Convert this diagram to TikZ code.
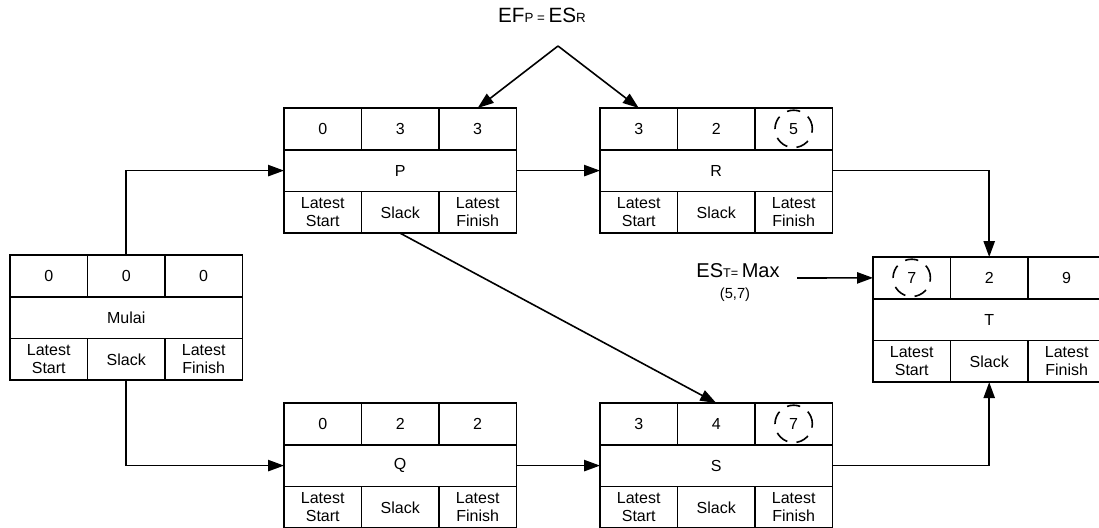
\documentclass[tikz,border=0pt]{standalone}
\usepackage{fontspec}
\setmainfont{Liberation Sans}
\usetikzlibrary{positioning,arrows.meta}

% one activity: ES | duration | EF, name, LS | slack | LF
\newcommand{\actbox}[6]{%
  \node[cell, anchor=north west] (#1-es) at (#2) {#3};
  \node[cell, right=0pt of #1-es] (#1-dur) {#4};
  \node[cell, right=0pt of #1-dur] (#1-ef) {#5};
  \node[namecell, below=0pt of #1-dur] (#1) {#6};
  \node[cell, anchor=north west] (#1-ls) at (#1.south west) {Latest\\Start};
  \node[cell, right=0pt of #1-ls] (#1-sl) {Slack};
  \node[cell, right=0pt of #1-sl] (#1-lf) {Latest\\Finish};
}

\begin{document}
\begin{tikzpicture}[x=0.75pt, y=-0.75pt,
  cell/.style={draw, line width=1.3pt, outer sep=0pt, inner sep=1pt,
    minimum width=58.1pt, minimum height=31.3pt, align=center,
    font=\fontsize{12}{13.5}\selectfont},
  namecell/.style={cell, minimum width=174.3pt},
  arr/.style={line width=1.2pt, -{Triangle[length=12pt, width=8.5pt]}},
  ring/.style={line width=1.2pt, dash pattern=on 10pt off 7pt}]
\useasboundingbox (0,0) rectangle (1099,528);

\actbox{mulai}{10,255}{0}{0}{0}{Mulai}
\actbox{p}{284,108}{0}{3}{3}{P}
\actbox{q}{284,403}{0}{2}{2}{Q}
\actbox{r}{600,108}{3}{2}{5}{R}
\actbox{s}{600,403}{3}{4}{7}{S}
\actbox{t}{873,257}{7}{2}{9}{T}

% critical values
\draw[ring] (r-ef.center) circle[radius=14pt];
\draw[ring] (s-ef.center) circle[radius=14pt];
\draw[ring] (t-es.center) circle[radius=14pt];

% dependencies
\draw[arr] (mulai-dur.north) |- (p.west);
\draw[arr] (mulai-sl.south) |- (q.west);
\draw[arr] (p.east) -- (r.west);
\draw[arr] (q.east) -- (s.west);
\draw[arr] (p-sl.south) -- (s-dur.north);
\draw[arr] (r.east) -| (t-dur.north);
\draw[arr] (s.east) -| (t-sl.south);

% notes
\node[anchor=base, inner sep=0pt] (efnote) at (542,23)
  {\fontsize{15.5}{17}\selectfont EF\fontsize{10}{11}\selectfont P = \fontsize{15.5}{17}\selectfont ES\fontsize{10}{11}\selectfont R};
\coordinate (apex) at (558,46);
\draw[arr] (apex) -- (p-ef.north);
\draw[arr] (apex) -- (r-es.north);

\node[anchor=base, inner sep=0pt] (estnote) at (738,277)
  {\fontsize{15}{17}\selectfont ES\fontsize{9.5}{11}\selectfont T= \fontsize{15}{17}\selectfont Max};
\node[anchor=base, inner sep=0pt, font=\fontsize{11}{12}\selectfont] (maxval) at (735,298) {(5,7)};
\coordinate (esttail) at (797,278);
\draw[arr] (esttail) -- (t-es.west);
\end{tikzpicture}
\end{document}
